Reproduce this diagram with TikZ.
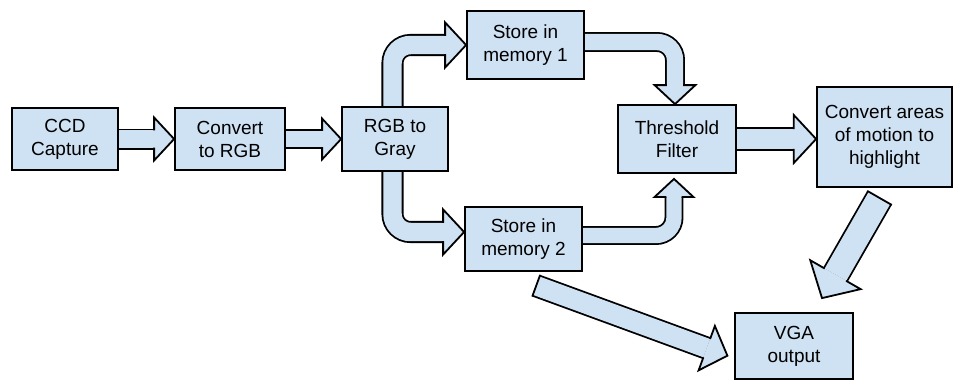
\documentclass[tikz,border=0pt]{standalone}
\usepackage{fontspec}
\setmainfont{Liberation Sans}
\usetikzlibrary{positioning,calc,backgrounds}
\usepackage{xcolor}
\definecolor{boxblue}{HTML}{CFE2F3}

\tikzset{
  stage/.style={draw, fill=boxblue, line width=1.8pt, align=center, inner sep=0pt,
    font=\fontsize{19}{23}\selectfont},
  fatshaft/.style={draw=black, line width=1.8pt, double=boxblue},
  fathead/.style={draw=black, fill=boxblue, line width=1.8pt, line cap=rect}
}

% block arrow: #2 path up to the last bend #3, head ends at #4, #1 scales it
\newcommand{\fatarrow}[4][1]{%
  \pgfmathsetmacro\fatgap{21*#1-3.6}%
  \pgfmathsetmacro\fatside{10.5*#1-0.9}%
  \pgfmathsetmacro\fatwing{21.5*#1}%
  \pgfmathsetmacro\fatlen{20*#1}%
  \coordinate (hb) at ($(#4)!\fatlen pt!(#3)$);
  \draw[fatshaft, double distance=\fatgap pt, rounded corners=18pt] #2 -- (hb);
  \filldraw[fathead] ($(hb)!\fatside pt!90:(#4)$) -- ($(hb)!\fatwing pt!90:(#4)$) -- (#4)
    -- ($(hb)!\fatwing pt!-90:(#4)$) -- ($(hb)!\fatside pt!-90:(#4)$);
}
% closed tail for the arrows that start in the open
\newcommand{\fatcap}[3][1]{%
  \pgfmathsetmacro\fatside{10.5*#1-0.9}%
  \draw[fathead] ($(#2)!\fatside pt!90:(#3)$) -- ($(#2)!\fatside pt!-90:(#3)$);
}

\begin{document}
\begin{tikzpicture}[x=1pt, y=1pt, on grid, node distance=165pt]
    \useasboundingbox (0,0) rectangle (953,-381);
    \node (ccd) [stage, minimum width=106pt, minimum height=62pt] at (65,-139) {CCD\\Capture};
    \node (torgb) [stage, right=of ccd, minimum width=110pt, minimum height=62pt] {Convert\\to RGB};
    \node (gray) [stage, right=of torgb, minimum width=106pt, minimum height=64pt] {RGB to\\Gray};
    \node (mem1) [stage, above right=94pt and 130.5pt of gray, minimum width=117pt, minimum height=68pt] {Store in\\memory 1};
    \node (mem2) [stage, below right=100pt and 128.5pt of gray, minimum width=117pt, minimum height=64pt] {Store in\\memory 2};
    \node (thresh) [stage, right=282pt of gray, minimum width=118pt, minimum height=68pt] {Threshold\\Filter};
    \node (motion) [stage, right=207.5pt of thresh, yshift=2pt, minimum width=135pt, minimum height=100pt] {Convert areas\\of motion to\\highlight};
    \node (vga) [stage, below right=207pt and 117pt of thresh, minimum width=118pt, minimum height=66pt] {VGA\\output};

    \begin{scope}[on background layer]
    \fatarrow{(ccd.east)}{ccd.east}{torgb.west}
    \fatarrow[0.95]{(torgb.east)}{torgb.east}{gray.west}

    \coordinate (gtop) at ($(gray.north)+(-2.5,0)$);
    \coordinate (c1) at (gtop |- mem1.west);
    \fatarrow[1.05]{(gtop) -- (c1)}{c1}{mem1.west}

    \coordinate (gbot) at ($(gray.south)+(-2.5,0)$);
    \coordinate (m2in) at ($(mem2.west)+(0,7)$);
    \coordinate (c2) at (gbot |- m2in);
    \fatarrow[1.05]{(gbot) -- (c2)}{c2}{m2in}

    \coordinate (m1out) at ($(mem1.east)+(0,3)$);
    \coordinate (thtop) at ($(thresh.north)+(-2,0)$);
    \coordinate (c3) at (thtop |- m1out);
    \fatarrow[0.95]{(m1out) -- (c3)}{c3}{thtop}

    \coordinate (m2out) at ($(mem2.east)+(0,3.5)$);
    \coordinate (thbot) at ($(thresh.south)+(-3,-5)$);
    \coordinate (c4) at (thbot |- m2out);
    \fatarrow[0.9]{(m2out) -- (c4)}{c4}{thbot}

    \coordinate (tin) at (motion.west |- thresh.east);
    \fatarrow[1.12]{(thresh.east)}{thresh.east}{tin}

    \coordinate (atail) at ($(motion.south)+(-5,-10)$);
    \coordinate (vtip1) at ($(vga.north)+(28,14)$);
    \fatarrow[1.35]{(atail)}{atail}{vtip1}
    \fatcap[1.35]{atail}{vtip1}

    \coordinate (mtail) at ($(mem2.south)+(12.7,-13.8)$);
    \coordinate (vtip2) at ($(vga.west)+(-6.7,-9.7)$);
    \fatarrow[1.1]{(mtail)}{mtail}{vtip2}
    \fatcap[1.1]{mtail}{vtip2}
    \end{scope}
\end{tikzpicture}
\end{document}
